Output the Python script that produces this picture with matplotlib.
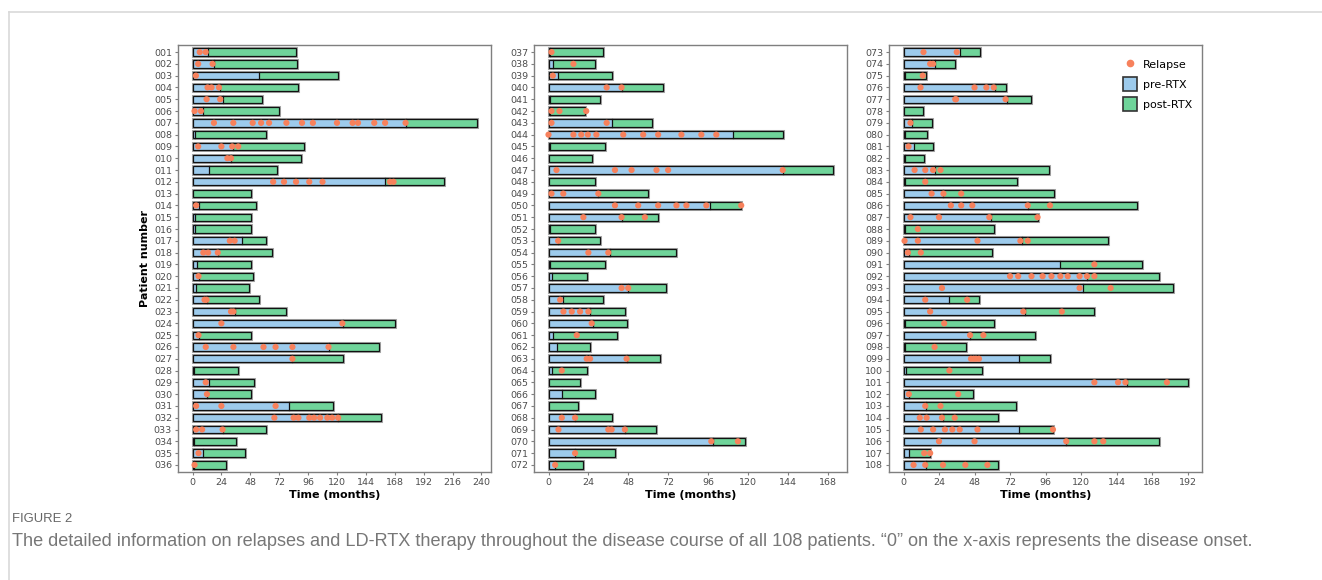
import numpy as np
import matplotlib.pyplot as plt
from matplotlib.lines import Line2D
from matplotlib.patches import Patch

# patient ids 001..108
patients = [f'{i:03d}' for i in range(1, 109)]

# months from onset to LD-RTX start (pre-RTX part)
pre_rtx = [13, 18, 55, 23, 25, 9, 177, 2, 34, 32, 14, 160, 0, 5, 2, 2, 41, 21,
           4, 5, 3, 12, 35, 125, 5, 113, 83, 1, 14, 12, 80, 121, 25, 1, 9, 1.5,
           1, 3, 6, 44, 1.2, 1, 38, 111, 1.2, 0, 141, 0, 30, 97, 44, 1.2, 6, 37,
           1.2, 2, 48, 9, 25, 27, 3, 5, 47, 2, 0, 8, 0, 16, 46, 99, 16, 4,
           38, 21, 1, 62, 70, 0, 6, 1, 7, 1, 21, 1, 27, 84, 59, 1, 80, 4,
           106, 124, 121, 31, 82, 1, 45, 1, 78, 2, 151, 3.5, 15, 27, 78, 110, 4, 15]

# total follow-up (months)
total = [86, 87, 121, 88, 58, 72, 236, 61, 93, 90, 70, 209, 49, 53, 49, 49, 61, 66,
         49, 50, 47, 55, 78, 168, 49, 155, 125, 38, 51, 49, 117, 157, 61, 36, 44, 28,
         33, 28, 38, 69, 31, 22, 62, 141, 34, 26, 171, 28, 60, 116, 66, 28, 31, 77,
         34, 23, 71, 33, 46, 47, 41, 25, 67, 23, 19, 28, 18, 38, 65, 118, 40, 21,
         52, 35, 15, 69, 86, 13, 19, 16, 20, 14, 98, 77, 102, 158, 91, 61, 138, 60,
         161, 173, 182, 51, 129, 61, 89, 42, 99, 53, 192, 47, 76, 64, 101, 173, 18, 64]

# relapse times (months)
relapses = [
    [6, 11], [4.7, 16.7], [2.8], [12.5, 15.8, 22], [11.7, 23], [1.7, 7],
    [17.8, 33.9, 50, 57, 63.6, 78, 91, 100, 120, 133, 137.5, 151, 160, 177],
    [], [4.7, 24, 33, 38], [29, 32], [], [67, 76, 86, 97, 108, 164, 167],
    [], [3], [], [], [31, 35], [9, 13, 21], [], [5], [], [10, 11.7], [32, 34],
    [24, 124.5], [5], [11, 34, 59, 69, 83, 113], [83], [], [11], [12],
    [3, 24, 69], [68, 84, 88, 97, 101, 106, 112, 116, 121], [3, 8, 25], [], [5], [1.7],
    [1.8], [15], [2.6], [35, 44], [], [1.8, 6.6, 22.7], [1.8, 35],
    [0, 15, 19.7, 23.7, 28.8, 45, 57, 66, 80, 92, 101], [], [],
    [4.8, 40, 50, 65, 72, 141], [], [1.8, 8.9, 30], [40, 54, 66, 77, 83, 95, 116],
    [21, 44, 58], [], [5.8], [24, 36], [], [], [44, 48], [7], [9, 14, 19, 24],
    [26], [17], [], [23, 25, 47], [8], [], [], [], [8, 16], [6, 36, 38, 46],
    [98, 114], [16], [4],
    [13.5, 36], [18, 20], [13], [11.5, 48, 56, 61], [35, 35.5, 69], [], [4.7], [],
    [3.4], [], [7.5, 14.7, 20, 25], [14.7], [19, 27, 39], [32, 39, 46.5, 84, 99],
    [4.7, 24, 58, 90.6], [9.7], [0.7, 9.7, 50, 79, 84], [3, 11.7], [129],
    [72, 77.5, 86.5, 94, 100, 106, 111, 119, 124, 129], [26, 119, 140], [14.7, 43],
    [18, 81, 107], [27.5], [45, 54], [21], [45.6, 47.4, 49, 51], [31],
    [129, 145, 150, 178], [3.6, 37], [14.7, 25], [11, 15.6, 26, 34.6],
    [11.7, 20, 28, 33, 38, 50, 101], [24, 48, 110, 129, 135], [14, 18],
    [6.8, 14.7, 26.7, 41.8, 56.7],
]

x_max = [240, 168, 192]

BLUE = '#9DCBEC'
GREEN = '#6FD49A'
DOT = '#F7815C'
SPINE = '#7f7f7f'

fig = plt.figure(figsize=(13.22, 5.8), dpi=100)
W, H = 1322, 580

lefts = [178.3, 534.3, 889.3]
for p in range(3):
    ax = fig.add_axes([lefts[p] / W, 1 - 472 / H, 312.5 / W, 427 / H])
    idx = range(p * 36, p * 36 + 36)
    ys = np.arange(36)
    pre = np.array([pre_rtx[i] for i in idx])
    tot = np.array([total[i] for i in idx])
    h = 0.62
    # grey halo under each bar
    ax.barh(ys, tot, height=h, color='none', edgecolor='#a8a8a8', linewidth=2.2, zorder=1)
    ax.barh(ys, pre, height=h, color=BLUE, edgecolor='none', zorder=2)
    ax.barh(ys, tot - pre, left=pre, height=h, color=GREEN, edgecolor='none', zorder=2)
    ax.barh(ys, tot, height=h, color='none', edgecolor='#111111', linewidth=0.9, zorder=3)
    for y, x in zip(ys, pre):
        if x > 0:
            ax.plot([x, x], [y - h / 2, y + h / 2], color='#111111', lw=0.9, zorder=3)
    for y, i in zip(ys, idx):
        if relapses[i]:
            ax.scatter(relapses[i], [y] * len(relapses[i]), s=20, color=DOT,
                       edgecolor='none', zorder=4)

    data_max = max(tot)
    pad = 0.05 * data_max
    ax.set_xlim(-pad, data_max + pad)
    ax.set_ylim(35.6, -0.6)
    ax.set_xticks(np.arange(0, x_max[p] + 1, 24))
    ax.set_yticks(ys)
    ax.set_yticklabels([patients[i] for i in idx])
    ax.tick_params(axis='both', labelsize=6.8, colors='#4d4d4d', length=2.5,
                   width=0.8, pad=2)
    ax.tick_params(axis='both', color=SPINE)
    for s in ax.spines.values():
        s.set_color(SPINE)
        s.set_linewidth(1.0)
    ax.set_xlabel('Time (months)', fontsize=8, fontweight='bold', labelpad=2)
    if p == 0:
        ax.set_ylabel('Patient number', fontsize=8, fontweight='bold', labelpad=3)

    if p == 2:
        handles = [
            Line2D([], [], marker='o', linestyle='none', color=DOT,
                   markersize=4.5, label='Relapse'),
            Patch(facecolor=BLUE, edgecolor='#333333', linewidth=1.2, label='pre-RTX'),
            Patch(facecolor=GREEN, edgecolor='#333333', linewidth=1.2, label='post-RTX'),
        ]
        ax.legend(handles=handles, loc='upper right', bbox_to_anchor=(1.0, 0.995),
                  frameon=False, fontsize=8, handlelength=1.3, handleheight=1.6,
                  labelspacing=0.5, handletextpad=0.5)

# page frame
fig.add_artist(Line2D([9 / W, 1], [1 - 12 / H, 1 - 12 / H], color='#d9d9d9', lw=1.2))
fig.add_artist(Line2D([9 / W, 9 / W], [0, 1 - 12 / H], color='#d9d9d9', lw=1.2))

fig_label = fig.text(12 / W, 1 - 519 / H, 'FIGURE 2', fontsize=9, color='#666666',
                     va='center', family='Liberation Sans')
caption = fig.text(12 / W, 1 - 542 / H,
                   'The detailed information on relapses and LD-RTX therapy throughout the disease '
                   'course of all 108 patients. \u201c0\u201d on the x-axis represents the disease onset.',
                   fontsize=12, color='#777777', va='center', family='Liberation Sans')

# shrink the caption texts to the width they take in the figure
renderer = fig.canvas.get_renderer()
for t, target in [(fig_label, 60), (caption, 1246)]:
    w = t.get_window_extent(renderer).width
    t.set_fontsize(t.get_fontsize() * target / w)

fig.savefig('out.png', dpi=100)
